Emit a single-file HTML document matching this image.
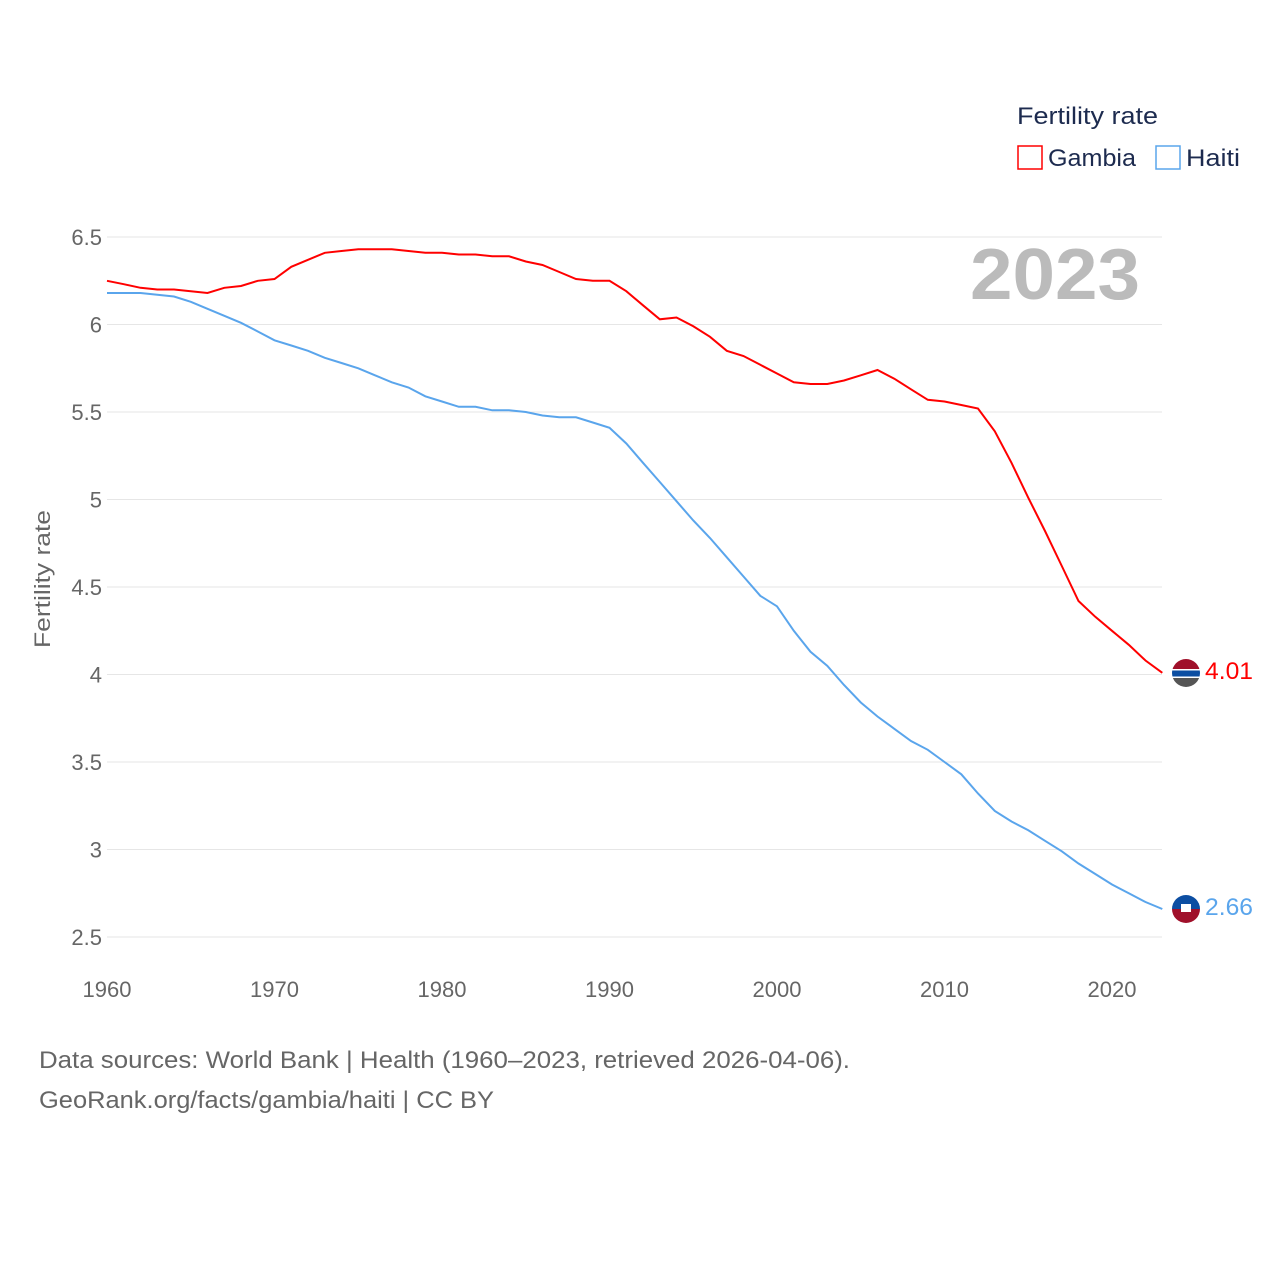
<!DOCTYPE html>
<html><head><meta charset="utf-8"><style>
body{margin:0;background:#fff;font-family:"Liberation Sans",sans-serif}
svg text{font-family:"Liberation Sans",sans-serif}
</style></head><body>
<svg id="chart" width="1280" height="1280" viewBox="0 0 1280 1280">
<defs>
<clipPath id="cg"><circle cx="1186" cy="673" r="14"/></clipPath>
<clipPath id="ch"><circle cx="1186" cy="909" r="14"/></clipPath>
</defs>
<g id="grid"></g>
<g id="yticks"></g>
<g id="xticks"></g>
<text x="50" y="579" transform="rotate(-90 50 579)" text-anchor="middle" font-size="22" fill="#666" textLength="138" lengthAdjust="spacingAndGlyphs">Fertility rate</text>
<text x="970" y="299" font-size="72" font-weight="bold" fill="#bbb" textLength="170" lengthAdjust="spacingAndGlyphs">2023</text>
<text x="1017" y="124" font-size="24" fill="#1d2b4f" textLength="141" lengthAdjust="spacingAndGlyphs">Fertility rate</text>
<g><rect x="1018" y="146" width="24" height="23" fill="none" stroke="#f00" stroke-width="1.5"/><text x="1048" y="166" font-size="24" fill="#1d2b4f" textLength="88" lengthAdjust="spacingAndGlyphs">Gambia</text></g>
<g><rect x="1156" y="146" width="24" height="23" fill="none" stroke="#5aa5ec" stroke-width="1.5"/><text x="1186" y="166" font-size="24" fill="#1d2b4f" textLength="54" lengthAdjust="spacingAndGlyphs">Haiti</text></g>
<g id="series"></g>
<g clip-path="url(#cg)">
<rect x="1172" y="659" width="28" height="10" fill="#a0102a"/><rect x="1172" y="669" width="28" height="1.5" fill="#fff"/><rect x="1172" y="670.5" width="28" height="6" fill="#0c4ea2"/><rect x="1172" y="676.5" width="28" height="1.5" fill="#fff"/><rect x="1172" y="678" width="28" height="10" fill="#555"/></g>
<g clip-path="url(#ch)">
<rect x="1172" y="895" width="28" height="14" fill="#0c4ea2"/><rect x="1172" y="909" width="28" height="14" fill="#a0102a"/><rect x="1181" y="904" width="10" height="8" fill="#fff"/></g>
<text id="lg" x="1205" y="679" font-size="24" fill="#f00" textLength="48" lengthAdjust="spacingAndGlyphs">4.01</text>
<text id="lh" x="1205" y="915" font-size="24" fill="#5aa5ec" textLength="48" lengthAdjust="spacingAndGlyphs">2.66</text>
<text x="39" y="1068" font-size="24" fill="#666" textLength="811" lengthAdjust="spacingAndGlyphs">Data sources: World Bank | Health (1960–2023, retrieved 2026-04-06).</text>
<text x="39" y="1108" font-size="24" fill="#666" textLength="455" lengthAdjust="spacingAndGlyphs">GeoRank.org/facts/gambia/haiti | CC BY</text>
</svg>
<script>
const years=[];for(let y=1960;y<=2023;y++)years.push(y);
const gambia=[6.25,6.23,6.21,6.20,6.20,6.19,6.18,6.21,6.22,6.25,6.26,6.33,6.37,6.41,6.42,6.43,6.43,6.43,6.42,6.41,6.41,6.40,6.40,6.39,6.39,6.36,6.34,6.30,6.26,6.25,6.25,6.19,6.11,6.03,6.04,5.99,5.93,5.85,5.82,5.77,5.72,5.67,5.66,5.66,5.68,5.71,5.74,5.69,5.63,5.57,5.56,5.54,5.52,5.39,5.21,5.01,4.82,4.62,4.42,4.33,4.25,4.17,4.08,4.01];
const haiti=[6.18,6.18,6.18,6.17,6.16,6.13,6.09,6.05,6.01,5.96,5.91,5.88,5.85,5.81,5.78,5.75,5.71,5.67,5.64,5.59,5.56,5.53,5.53,5.51,5.51,5.50,5.48,5.47,5.47,5.44,5.41,5.32,5.21,5.10,4.99,4.88,4.78,4.67,4.56,4.45,4.39,4.25,4.13,4.05,3.94,3.84,3.76,3.69,3.62,3.57,3.50,3.43,3.32,3.22,3.16,3.11,3.05,2.99,2.92,2.86,2.80,2.75,2.70,2.66];
const yTicks=[2.5,3,3.5,4,4.5,5,5.5,6,6.5];
const yTickLabels=["2.5","3","3.5","4","4.5","5","5.5","6","6.5"];
const xTicks=[1960,1970,1980,1990,2000,2010,2020];
const NS="http://www.w3.org/2000/svg";
const X=v=>107+(v-1960)*1005/60;
const Y=v=>937-(v-2.5)*175;
function mk(t,a,p){const e=document.createElementNS(NS,t);for(const k in a)e.setAttribute(k,a[k]);p.appendChild(e);return e;}
const grid=document.getElementById('grid'),yt=document.getElementById('yticks'),xt=document.getElementById('xticks'),ser=document.getElementById('series');
yTicks.forEach((v,i)=>{
const l=mk('line',{x1:107,x2:1162,y1:Y(v),y2:Y(v),stroke:'#e6e6e6','stroke-width':1},grid);


const t=mk('text',{x:102,y:Y(v)+8,'text-anchor':'end','font-size':22,fill:'#666'},yt);t.textContent=yTickLabels[i];


});
xTicks.forEach(v=>{
const t=mk('text',{x:X(v),y:997,'text-anchor':'middle','font-size':22,fill:'#666'},xt);t.textContent=v;


});
function line(d,c,n){
const p=mk('path',{d:d.map((v,i)=>(i?'L':'M')+X(years[i]).toFixed(1)+','+Y(v).toFixed(1)).join(''),fill:'none',stroke:c,'stroke-width':2},ser);


}
line(gambia,'#f00','gambia-line');line(haiti,'#5aa5ec','haiti-line');
document.getElementById('lg').textContent=gambia[gambia.length-1].toFixed(2);
document.getElementById('lh').textContent=haiti[haiti.length-1].toFixed(2);
</script>
</body></html>
